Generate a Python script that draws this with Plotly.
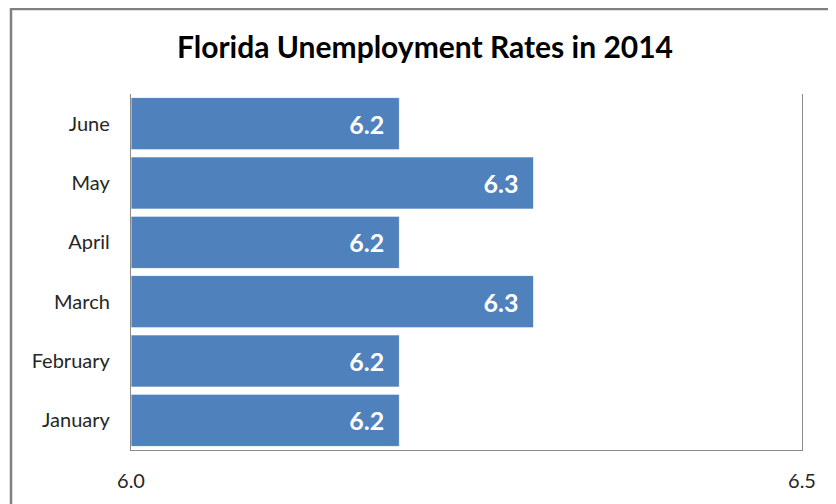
import plotly.graph_objects as go

months = ["January", "February", "March", "April", "May", "June"]
rates = [6.2, 6.2, 6.3, 6.2, 6.3, 6.2]
x_base = 6.0
x_ticks = [6.0, 6.5]
x_tick_labels = ["6.0", "6.5"]
title_text = "Florida Unemployment Rates in 2014"

W, H = 836, 504
OFF = 8  # page body margin offset
# target plot area in screen pixels: x 131..802, y 94..450
L = 131 - OFF
T = 94 - OFF
R = W - (802 - OFF)
B = H - (450 - OFF)
pw, ph = W - L - R, H - T - B

def px_x(X):
    return (X - OFF - L) / pw

def px_y(Y):
    return (H - B - (Y - OFF)) / ph

fig = go.Figure(go.Bar(
    x=[r - x_base for r in rates], y=months, orientation="h", base=x_base,
    marker=dict(color="#4F81BD", line=dict(color="#FFFFFF", width=0.8)),
    text=[f"{v:.1f}\u00a0\u00a0" for v in rates],
    textposition="inside", insidetextanchor="end",
    textfont=dict(family="Lato", size=25, color="white", weight="bold"),
    width=0.88,
))

fig.update_layout(
    width=W, height=H,
    margin=dict(l=L, r=R, t=T, b=B, pad=0),
    paper_bgcolor="white", plot_bgcolor="white",
    showlegend=False,
    font=dict(family="Lato", size=20, color="#262626"),
    title=dict(text=f"<b>{title_text}</b>", x=(425 - OFF) / W, xanchor="center",
               y=1 - (47 - OFF) / H, yanchor="middle",
               font=dict(family="Lato", size=30, color="#000000")),
    xaxis=dict(range=[6.0, 6.5], tickvals=x_ticks, ticktext=x_tick_labels,
               showgrid=True, gridcolor="#8C8C8C", gridwidth=1.3,
               showline=True, linecolor="#8C8C8C", linewidth=1.3,
               ticks="outside", ticklen=13, tickcolor="rgba(0,0,0,0)",
               zeroline=False, fixedrange=True),
    yaxis=dict(categoryorder="array", categoryarray=months,
               showline=True, linecolor="#8C8C8C", linewidth=1.3, mirror=True,
               ticks="outside", ticklen=16, tickcolor="rgba(0,0,0,0)",
               showgrid=False, zeroline=False),
    shapes=[dict(type="rect", xref="paper", yref="paper",
                 x0=px_x(11), x1=px_x(850), y0=px_y(520), y1=px_y(9),
                 line=dict(color="#808080", width=2.5), fillcolor="rgba(0,0,0,0)",
                 layer="below")],
)
fig.write_html("out.html")
